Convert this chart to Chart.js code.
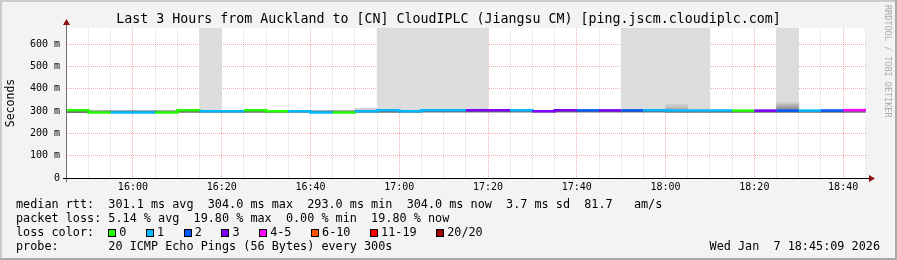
<!DOCTYPE html>
<html>
<head>
<meta charset="utf-8">
<script src="https://cdn.jsdelivr.net/npm/chart.js@4.4.1/dist/chart.umd.min.js"></script>
<style>
  html, body { margin: 0; padding: 0; background: #f3f3f3; }
  #frame { position: relative; width: 897px; height: 260px; overflow: hidden;
           font-family: 'DejaVu Sans Mono', monospace; color: #000; }
  #frame canvas { position: absolute; left: 0; top: 0; }
  .edge { position: absolute; }
  #title { position: absolute; left: 0; top: 11px; width: 897px; text-align: center;
           font-size: 13.3px; line-height: 16px; white-space: pre; }
  #credit { position: absolute; left: 883px; top: 5px; writing-mode: vertical-rl;
            font-size: 8.5px; line-height: 10px; color: #aaa; white-space: pre; }
  #legend { position: absolute; left: 16px; top: 197px; font-size: 11.8px; line-height: 14px; white-space: pre; }
  #date { position: absolute; right: 17px; top: 239px; font-size: 11.8px; line-height: 14px; white-space: pre; }
  .box { display: inline-block; width: 6px; height: 6px; border: 1px solid #000; vertical-align: middle; margin-right: 3px; }
  .lbl { margin-right: 5.4px; }
</style>
</head>
<body>
<div id="frame">
  <div class="edge" style="left:0;top:0;width:897px;height:2px;background:#cbcbcb"></div>
  <div class="edge" style="left:0;top:0;width:2px;height:260px;background:#cbcbcb"></div>
  <div class="edge" style="left:0;top:258px;width:897px;height:2px;background:#aaa"></div>
  <div class="edge" style="left:895px;top:0;width:2px;height:260px;background:#aaa"></div>
  <canvas id="chart" width="897" height="260"></canvas>
  <div id="title">Last 3 Hours from Auckland to [CN] CloudIPLC (Jiangsu CM) [ping.jscm.cloudiplc.com]</div>
  <div id="credit">RRDTOOL / TOBI OETIKER</div>
  <div id="legend"></div>
  <div id="date">Wed Jan  7 18:45:09 2026</div>
</div>
<script>
// 5 minute intervals (start times), 15:45:09 .. 18:45:09
const startTime = '15:45:09';
const endTime = '18:45:09';
const times = ['15:45', '15:50', '15:55', '16:00', '16:05', '16:10', '16:15', '16:20', '16:25', '16:30',
  '16:35', '16:40', '16:45', '16:50', '16:55', '17:00', '17:05', '17:10', '17:15', '17:20',
  '17:25', '17:30', '17:35', '17:40', '17:45', '17:50', '17:55', '18:00', '18:05', '18:10',
  '18:15', '18:20', '18:25', '18:30', '18:35', '18:40'];

// median rtt in ms
const medianRtt = [303, 294, 294, 294, 294, 303, 299, 299, 303, 299,
  299, 294, 294, 299, 303, 299, 303, 303, 303, 303,
  303, 299, 303, 303, 303, 303, 303, 302, 302, 302,
  302, 302, 302, 302, 302, 304];

// index into lossLabels / lossColors
const lossLevel = [0, 0, 1, 1, 0, 0, 1, 1, 0, 0,
  1, 1, 0, 1, 1, 1, 1, 1, 3, 3,
  1, 3, 3, 2, 3, 2, 1, 1, 1, 1,
  0, 3, 2, 1, 2, 4];

// dense smoke around the median (ms)
const coreLo = [293, 293, 293, 293, 293, 294, 294, 294, 294, 294,
  294, 293, 293, 294, 294, 294, 295, 295, 295, 295,
  295, 295, 295, 295, 295, 295, 295, 294, 294, 294,
  294, 294, 294, 294, 294, 294];
const coreHi = [300, 301, 301, 301, 301, 300, 300, 300, 300, 300,
  300, 301, 301, 300, 300, 300, 300, 300, 300, 300,
  300, 300, 300, 300, 300, 300, 300, 300, 300, 300,
  300, 300, 300, 300, 300, 300];

// upper edges of the lighter smoke layers (ms), null = none
const smokeTop = [null, null, null, null, null, null, 700, null, null, null,
  null, null, null, null, 700, 700, 700, 700, 700, null,
  null, null, null, null, null, 700, 700, 700, 700, null,
  null, null, 700, null, null, null];
const smokeMid = [null, null, null, null, null, null, null, null, null, null,
  null, null, null, 311, null, null, null, null, null, null,
  null, null, null, null, null, null, null, 329, null, null,
  null, null, 338, null, null, null];
const smokeDeep = [null, null, null, null, null, null, null, null, null, null,
  null, null, null, null, null, null, null, null, null, null,
  null, null, null, null, null, null, null, 316, null, null,
  null, null, 329, null, null, null];
const smokeDark = [null, null, null, null, null, null, null, null, null, null,
  null, null, null, null, null, null, null, null, null, null,
  null, null, null, null, null, null, null, null, null, null,
  null, null, 319, null, null, null];

const lossLabels = ['0', '1', '2', '3', '4-5', '6-10', '11-19', '20/20'];
const lossColors = ['#26ff00', '#00b8ff', '#0059ff', '#7e00ff', '#ff00ff', '#ff5500', '#ff0000', '#a00000'];

const yMax = 672;
const yLabelValues = [0, 100, 200, 300, 400, 500, 600];

const statLines = [
  'median rtt:  301.1 ms avg  304.0 ms max  293.0 ms min  304.0 ms now  3.7 ms sd  81.7   am/s',
  'packet loss: 5.14 % avg  19.80 % max  0.00 % min  19.80 % now'
];
const probeLine = 'probe:       20 ICMP Echo Pings (56 Bytes) every 300s';

const FONT = "'DejaVu Sans Mono'";
const STEP = 5;
const MAJOR = 'rgba(230,90,90,0.5)';
const MINOR = 'rgba(143,143,143,0.35)';

function toMin(t) {
  const [h, m, s] = t.split(':').map(Number);
  return h * 60 + m + (s || 0) / 60;
}

function pad2(n) {
  return String(n).padStart(2, '0');
}

const xs = times.map(toMin);
const xMin = toMin(startTime);
const xMax = toMin(endTime);

function band(tops, bases) {
  return xs.map((x, i) => ({ x: x + STEP / 2, y: tops[i] == null ? null : [bases[i], tops[i]] }));
}

function barSet(data, color, order) {
  return {
    type: 'bar', data, order,
    backgroundColor: color, borderWidth: 0,
    grouped: false, barPercentage: 1, categoryPercentage: 1
  };
}

function gridColor(every) {
  return c => {
    const v = c.tick ? Math.round(c.tick.value) : 1;
    return v % every === 0 ? MAJOR : MINOR;
  };
}

const medianPoints = xs.map((x, i) => ({ x, y: medianRtt[i] }));
medianPoints.push({ x: xMax, y: medianRtt[medianRtt.length - 1] });

// legend text below the graph
const legend = document.getElementById('legend');
let html = statLines.join('\n') + '\nloss color:  ';
lossLabels.forEach((l, i) => {
  html += `<span class="box" style="background:${lossColors[i]}"></span><span class="lbl">${l}  </span>`;
});
html += '\n' + probeLine;
legend.innerHTML = html;

const rrdFrame = {
  id: 'rrdFrame',
  beforeDraw(chart) {
    const { ctx, chartArea: a } = chart;
    ctx.save();
    ctx.fillStyle = '#ffffff';
    ctx.fillRect(a.left, a.top, a.right - a.left, a.bottom - a.top);
    ctx.restore();
  },
  afterDraw(chart) {
    const { ctx, chartArea: a } = chart;
    const x0 = Math.round(a.left) - 1;
    const y0 = Math.round(a.bottom);
    ctx.save();
    // y axis
    ctx.fillStyle = '#707070';
    ctx.fillRect(x0, a.top - 5, 1, y0 - a.top + 9);
    // x axis
    ctx.fillStyle = '#000000';
    ctx.fillRect(x0 - 3, y0, a.right - x0 + 6, 1);
    // arrows
    ctx.fillStyle = '#8b1010';
    ctx.beginPath();
    ctx.moveTo(x0 - 3, a.top - 3);
    ctx.lineTo(x0 + 4, a.top - 3);
    ctx.lineTo(x0 + 0.5, a.top - 9);
    ctx.closePath();
    ctx.fill();
    ctx.beginPath();
    ctx.moveTo(a.right + 3, y0 - 3);
    ctx.lineTo(a.right + 3, y0 + 4);
    ctx.lineTo(a.right + 9, y0 + 0.5);
    ctx.closePath();
    ctx.fill();
    ctx.restore();
  }
};

new Chart(document.getElementById('chart'), {
  type: 'bar',
  data: {
    datasets: [
      {
        type: 'line', data: medianPoints, order: 0,
        stepped: true, borderWidth: 2.5, pointRadius: 0,
        borderCapStyle: 'butt', borderJoinStyle: 'miter',
        borderColor: lossColors[0],
        segment: { borderColor: ctx => lossColors[lossLevel[ctx.p0DataIndex]] }
      },
      barSet(band(coreHi, coreLo), '#666666', 1),
      barSet(band(smokeDark, coreHi), '#9a9a9a', 2),
      barSet(band(smokeDeep, coreHi), '#b4b4b4', 3),
      barSet(band(smokeMid, coreHi), '#c8c8c8', 4),
      barSet(band(smokeTop, coreHi), '#dcdcdc', 5)
    ]
  },
  options: {
    responsive: false,
    animation: false,
    events: [],
    layout: { padding: { top: 28, right: 31, bottom: 62, left: 0 } },
    plugins: { legend: { display: false }, tooltip: { enabled: false } },
    scales: {
      x: {
        type: 'linear', min: xMin, max: xMax, z: 1, offset: false,
        afterBuildTicks: scale => {
          const ticks = [];
          for (let v = Math.ceil(xMin / STEP) * STEP; v <= xMax; v += STEP) ticks.push({ value: v });
          scale.ticks = ticks;
        },
        afterFit: scale => { scale.height = 20; },
        grid: { drawTicks: false, offset: false, color: gridColor(20) },
        border: { display: false, dash: [1, 1] },
        ticks: {
          autoSkip: false, maxRotation: 0, padding: 3, color: '#000',
          font: { family: FONT, size: 10 },
          callback: v => {
            const m = Math.round(v);
            return m % 20 === 0 ? pad2(Math.floor(m / 60)) + ':' + pad2(m % 60) : '';
          }
        }
      },
      y: {
        min: 0, max: yMax, z: 1,
        afterBuildTicks: scale => {
          const ticks = [];
          for (let v = 0; v < yMax; v += 50) ticks.push({ value: v });
          scale.ticks = ticks;
        },
        afterFit: scale => { scale.width = 67; },
        grid: { drawTicks: false, color: gridColor(100) },
        border: { display: false, dash: [1, 1] },
        ticks: {
          padding: 7, color: '#000',
          font: { family: FONT, size: 10 },
          callback: v => (yLabelValues.includes(v) ? (v === 0 ? '0' : v + ' m') : '')
        },
        title: {
          display: true, text: 'Seconds', color: '#000',
          font: { family: FONT, size: 11.5 },
          padding: { top: 4, bottom: 0 }
        }
      }
    }
  },
  plugins: [rrdFrame]
});
</script>
</body>
</html>
